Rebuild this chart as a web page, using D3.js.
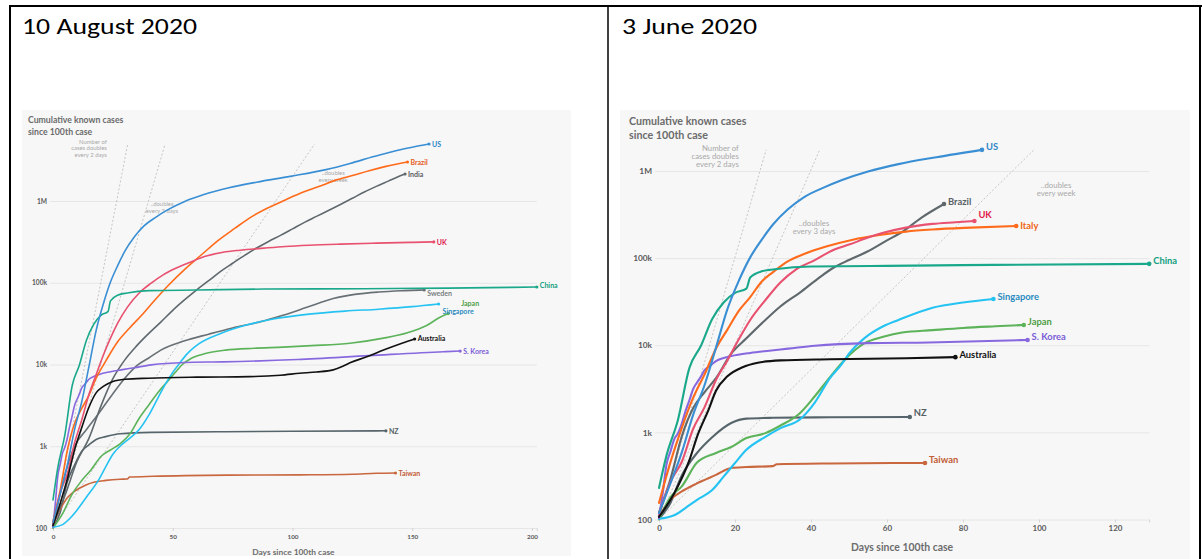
<!DOCTYPE html>
<html>
<head>
<meta charset="utf-8">
<script src="https://cdn.jsdelivr.net/npm/d3@7"></script>
<style>
  html, body { margin: 0; padding: 0; background: #fff; }
  svg { display: block; }
</style>
</head>
<body>
<svg id="root" width="1202" height="559"></svg>
<script>
// ---------- Shared axis values ----------
const Y_TICKS = [100, 1000, 10000, 100000, 1000000];
const Y_TICK_LABELS = ["100", "1k", "10k", "100k", "1M"];
const AUG_X_TICKS = [0, 50, 100, 150, 200];
const JUN_X_TICKS = [0, 20, 40, 60, 80, 100, 120];
const DOUBLING_PERIODS = [2, 3, 7];
const PANEL_DATES = ["10 August 2020", "3 June 2020"];

// ---------- 10 August 2020: [days since 100th case, cumulative cases] ----------
const augUS = [[0,118],[3,260],[6,590],[9,1600],[12,3500],[15,9400],[18,26000],[21,55000],[24,102000],[27,162000],[30,243000],[34,366000],[38,496000],[43,636000],[48,784000],[55,988000],[63,1200000],[73,1440000],[85,1700000],[99,2000000],[114,2420000],[124,2880000],[134,3500000],[144,4180000],[150,4550000],[157,4980000]];
const augBrazil = [[0,121],[3,290],[6,900],[9,1900],[12,2900],[15,4200],[18,6800],[22,11000],[27,19000],[32,28000],[37,40000],[42,59000],[48,92000],[55,146000],[62,220000],[69,330000],[76,465000],[83,645000],[90,830000],[97,1030000],[104,1270000],[111,1500000],[118,1800000],[125,2050000],[132,2350000],[139,2650000],[148,3000000]];
const augIndia = [[0,110],[5,250],[10,650],[15,1250],[20,3100],[25,6700],[30,11400],[35,17000],[40,24000],[45,33000],[50,46000],[55,62000],[60,82000],[65,106000],[70,138000],[75,173000],[80,216000],[85,266000],[90,320000],[95,380000],[100,456000],[105,548000],[110,648000],[115,767000],[120,907000],[125,1080000],[130,1290000],[135,1510000],[140,1750000],[145,2030000],[147,2140000]];
const augUK = [[0,115],[3,270],[6,460],[9,1100],[12,2100],[15,4300],[18,7500],[21,13000],[24,21000],[27,32000],[31,50000],[36,75000],[41,99000],[46,125000],[51,149000],[57,177000],[64,212000],[71,236000],[78,250000],[88,265000],[97,278000],[107,288000],[120,297000],[135,305000],[150,312000],[159,316000]];
const augChina = [[0,220],[2,548],[5,1400],[8,5500],[11,9800],[14,20000],[17,31000],[20,40000],[23,44700],[24,60000],[27,70500],[31,75000],[40,80000],[60,81500],[88,83700],[130,84500],[165,86000],[202,88700]];
const augSweden = [[0,100],[4,350],[9,1000],[14,1600],[19,2500],[25,4400],[30,6800],[35,9700],[40,12000],[45,15000],[55,19500],[65,23500],[75,28000],[86,33000],[96,40000],[106,50000],[117,64000],[126,72000],[136,77000],[147,80000],[155,81500]];
const augSingapore = [[0,102],[4,110],[8,140],[14,240],[19,385],[22,560],[25,800],[28,1000],[32,1250],[36,1600],[40,2400],[44,4000],[47,5800],[50,8000],[53,10500],[56,13500],[61,18000],[70,24000],[80,30000],[92,36000],[106,41000],[122,45000],[136,47500],[150,51000],[161,55000]];
const augJapan = [[0,100],[4,150],[8,260],[12,380],[16,520],[20,750],[24,900],[28,1070],[32,1400],[36,2200],[40,3200],[44,4600],[48,6300],[51,8000],[54,10000],[58,12000],[64,13700],[72,15000],[84,15800],[96,16300],[108,17000],[124,18200],[138,21000],[148,24500],[156,30000],[161,37000],[165,42000]];
const augAustralia = [[0,107],[3,200],[6,400],[9,900],[12,1700],[15,3000],[18,4500],[21,5400],[25,6200],[30,6600],[40,6800],[60,7000],[82,7100],[95,7400],[103,7800],[110,8100],[117,8600],[121,9500],[124,10500],[131,12400],[138,15000],[146,18300],[151,20500]];
const augKorea = [[0,104],[1,204],[2,433],[3,602],[4,833],[5,977],[6,1261],[7,1766],[8,2337],[9,3150],[10,3736],[11,4335],[12,5186],[13,5621],[14,6088],[15,6593],[17,7134],[19,7513],[24,8162],[29,8652],[34,9137],[41,9887],[55,10591],[71,10774],[102,11503],[132,12850],[163,14336],[170,14600]];
const augNZ = [[0,102],[3,155],[6,368],[9,589],[12,868],[15,1039],[18,1210],[22,1312],[28,1422],[41,1479],[72,1504],[100,1525],[139,1545]];
const augTaiwan = [[0,108],[3,169],[6,235],[8,267],[11,306],[14,339],[17,363],[22,382],[28,395],[31,398],[32,420],[42,429],[73,443],[103,447],[125,455],[135,467],[143,471]];

// ---------- 3 June 2020 ----------
const junUS = [[0,118],[3,260],[6,590],[9,1600],[12,3500],[15,9400],[18,26000],[21,55000],[24,102000],[27,162000],[30,243000],[34,366000],[38,496000],[43,636000],[48,784000],[55,988000],[63,1200000],[73,1440000],[85,1750000]];
const junBrazil = [[0,121],[3,290],[6,900],[9,1900],[12,2900],[15,4200],[19,8000],[23,12000],[28,19500],[32,28000],[37,40000],[42,59000],[46,78000],[50,95000],[55,120000],[60,160000],[64,200000],[69,290000],[75,418000]];
const junUK = [[0,115],[3,270],[6,460],[9,1100],[12,1950],[15,4000],[18,6700],[21,11700],[24,19500],[28,33000],[32,53000],[36,74000],[41,95000],[46,125000],[50,143000],[55,172000],[59,195000],[65,224000],[72,247000],[78,258000],[83,267000]];
const junItaly = [[0,155],[3,453],[6,1128],[9,2502],[12,4636],[15,9172],[18,15113],[21,24747],[24,35713],[27,53578],[30,69176],[34,92472],[38,110574],[44,135586],[51,162488],[58,183957],[65,201505],[72,213013],[82,223885],[94,234000]];
const junChina = [[0,230],[2,548],[5,1400],[8,5500],[11,9800],[14,20000],[17,31000],[20,40000],[23,44700],[24,60000],[27,70500],[31,75000],[40,80000],[60,81500],[88,83700],[129,86000]];
const junSingapore = [[0,102],[4,112],[8,146],[10,168],[14,218],[17,310],[20,445],[23,630],[28,890],[32,1120],[37,1400],[41,2200],[45,4200],[48,6000],[50,8000],[54,12000],[59,16500],[63,19500],[72,27000],[80,31000],[88,34000]];
const junJapan = [[0,100],[3,180],[6,240],[10,450],[15,580],[19,680],[23,860],[28,980],[32,1200],[37,1650],[41,2600],[45,4300],[49,6900],[54,10500],[59,12500],[64,14000],[72,14900],[80,15800],[90,16600],[96,17100]];
const junKorea = [[0,104],[1,204],[2,433],[3,602],[4,833],[5,977],[6,1261],[7,1766],[8,2337],[9,3150],[10,3736],[11,4335],[12,5186],[13,5621],[14,6088],[15,6593],[17,7134],[19,7513],[24,8162],[29,8652],[34,9137],[41,9887],[55,10591],[71,10774],[97,11500]];
const junAustralia = [[0,107],[4,200],[8,480],[10,890],[13,1800],[15,3000],[18,4400],[22,5600],[26,6300],[32,6700],[45,6900],[65,7100],[78,7300]];
const junNZ = [[0,102],[3,155],[6,320],[10,580],[14,880],[19,1280],[23,1440],[30,1470],[45,1490],[66,1504]];
const junTaiwan = [[0,108],[3,169],[6,210],[10,260],[15,325],[19,390],[23,400],[30,410],[31,430],[45,440],[70,446]];

const augSeries = [
  ["NZ", augNZ], ["Taiwan", augTaiwan], ["Sweden", augSweden], ["India", augIndia],
  ["Japan", augJapan], ["Singapore", augSingapore], ["S. Korea", augKorea], ["Brazil", augBrazil],
  ["UK", augUK], ["China", augChina], ["Australia", augAustralia], ["US", augUS]
];
const junSeries = [
  ["NZ", junNZ], ["Taiwan", junTaiwan], ["Brazil", junBrazil], ["Japan", junJapan],
  ["Singapore", junSingapore], ["S. Korea", junKorea], ["Italy", junItaly], ["UK", junUK],
  ["China", junChina], ["Australia", junAustralia], ["US", junUS]
];

// ---------- Styles ----------
const LINE_COLORS = {
  US: "#3a8fd4", Brazil: "#ff6b1a", India: "#5f686c", UK: "#e8516f", China: "#1aa88b",
  Sweden: "#687075", Singapore: "#25c3f2", Japan: "#5cb35a", Australia: "#111111",
  "S. Korea": "#8768df", NZ: "#56656b", Taiwan: "#c9673f", Italy: "#ff6b1a"
};
const LABEL_COLORS = {
  US: "#2f86c9", Brazil: "#e55a1c", India: "#575d61", UK: "#e0184c", China: "#129e80",
  Sweden: "#777d80", Singapore: "#2a8bbf", Japan: "#4f9e45", Australia: "#111111",
  "S. Korea": "#7a5dd6", NZ: "#555f64", Taiwan: "#c25c36", Italy: "#f06517"
};
const FONT = "Lato, 'Open Sans', sans-serif";

const svg = d3.select("#root");

// ---------- Table frame ----------
const frame = svg.append("g").attr("stroke", "#000").attr("fill", "none");
frame.append("line").attr("x1", 9).attr("x2", 1202).attr("y1", 6).attr("y2", 6).attr("stroke-width", 2);
frame.append("line").attr("x1", 10).attr("x2", 10).attr("y1", 5).attr("y2", 559).attr("stroke-width", 2);
frame.append("line").attr("x1", 608).attr("x2", 608).attr("y1", 5).attr("y2", 559).attr("stroke-width", 1.5);
frame.append("line").attr("x1", 1200).attr("x2", 1200).attr("y1", 5).attr("y2", 559).attr("stroke-width", 2);

const cellTitles = [{x: 22, w: 175}, {x: 622, w: 135}];
cellTitles.forEach((c, i) => {
  svg.append("text")
    .attr("x", c.x).attr("y", 34)
    .attr("textLength", c.w).attr("lengthAdjust", "spacingAndGlyphs")
    .style("font-family", "Carlito, 'Liberation Sans Narrow', 'Liberation Sans', sans-serif")
    .style("font-size", "22px").attr("fill", "#000")
    .text(PANEL_DATES[i]);
});

// ---------- One chart panel ----------
function drawPanel(p, series) {
  const g = svg.append("g");
  const x = d3.scaleLinear().domain(p.xDomain).range(p.xRange);
  const y = d3.scaleLog().domain([100, 1e6]).range(p.yRange);
  const lastDay = d3.max(series, s => s[1][s[1].length - 1][0]);
  const topValue = d3.max(series, s => s[1][s[1].length - 1][1]);
  const gridStart = x(0) - p.gridLead, gridEnd = x(lastDay);

  g.append("rect").attr("x", p.box[0]).attr("y", p.box[1])
    .attr("width", p.box[2]).attr("height", p.box[3]).attr("fill", "#f7f7f7");

  // y axis with full-width gridlines
  const yAxis = d3.axisLeft(y).tickValues(Y_TICKS)
    .tickFormat((d, i) => Y_TICK_LABELS[i])
    .tickSize(-(gridEnd - gridStart)).tickPadding(p.yPad);
  const ya = g.append("g").attr("transform", `translate(${gridStart},0)`).call(yAxis);
  ya.select(".domain").remove();
  ya.selectAll(".tick line").attr("stroke", "#e6e6e6").attr("stroke-width", 1);
  ya.selectAll(".tick text").attr("fill", "#5a5a5a")
    .style("font-family", FONT).style("font-weight", "700").style("font-size", p.tickSize + "px");

  // x axis along the 100-case line
  const xAxis = d3.axisBottom(x).tickValues(p.xTicks.concat([lastDay]))
    .tickFormat(d => p.xTicks.includes(d) ? d : "")
    .tickSize(3).tickPadding(p.xPad);
  const xa = g.append("g").attr("transform", `translate(0,${y(100)})`).call(xAxis);
  xa.select(".domain").remove();
  xa.selectAll(".tick line").attr("stroke", "#d4d4d4");
  xa.selectAll(".tick text").attr("fill", "#5a5a5a")
    .style("font-family", FONT).style("font-weight", "700").style("font-size", p.xTickSize + "px");

  g.append("text").attr("x", (gridStart + gridEnd) / 2).attr("y", p.axisTitleY)
    .attr("text-anchor", "middle").attr("dominant-baseline", "central")
    .attr("fill", "#6d6d6d").style("font-family", FONT).style("font-weight", "700")
    .style("font-size", p.axisTitleSize + "px").text("Days since 100th case");

  // chart title
  ["Cumulative known cases", "since 100th case"].forEach((t, i) => {
    g.append("text").attr("x", p.titleX).attr("y", p.titleY[i])
      .attr("dominant-baseline", "central").attr("fill", "#6b6b6b")
      .style("font-family", FONT).style("font-weight", "700")
      .style("font-size", p.titleSize + "px").text(t);
  });

  // doubling-rate guides
  const doublings = Math.log2(topValue / 100);
  g.selectAll("line.guide").data(DOUBLING_PERIODS).join("line")
    .attr("x1", x(0)).attr("y1", y(100))
    .attr("x2", d => x(d * doublings)).attr("y2", y(topValue))
    .attr("stroke", "#b8b8b8").attr("stroke-width", 0.8).attr("stroke-dasharray", "2,2");

  p.notes.forEach(n => {
    const t = g.append("text").attr("x", x(n.day)).attr("y", y(n.value))
      .attr("text-anchor", n.anchor).attr("fill", "#a9a9a9")
      .style("font-family", FONT).style("font-size", p.noteSize + "px");
    n.lines.forEach((l, i) => {
      t.append("tspan").attr("x", x(n.day)).attr("dy", i === 0 ? "0.35em" : p.noteLead).text(l);
    });
  });

  // case curves
  const line = d3.line().x(d => x(d[0])).y(d => y(d[1])).curve(d3.curveMonotoneX);
  const colors = Object.assign({}, LINE_COLORS, p.lineColors || {});
  const labelColors = Object.assign({}, LABEL_COLORS, p.labelColors || {});
  series.forEach(([name, pts]) => {
    g.append("path").datum(pts).attr("d", line).attr("fill", "none")
      .attr("stroke", colors[name]).attr("stroke-width", p.lineWidth)
      .attr("stroke-linejoin", "round").attr("stroke-linecap", "round");
    const end = pts[pts.length - 1];
    g.append("circle").attr("cx", x(end[0])).attr("cy", y(end[1]))
      .attr("r", p.dotR).attr("fill", colors[name]);
    const off = p.labelOffsets[name] || [0, 0];
    g.append("text").attr("x", x(end[0]) + p.labelGap + off[0]).attr("y", y(end[1]) + off[1])
      .attr("dominant-baseline", "central").attr("fill", labelColors[name])
      .style("font-family", FONT).style("font-weight", "700")
      .style("font-size", p.labelSize + "px").text(name);
  });
}

drawPanel({
  box: [22, 110, 549, 446],
  xDomain: [0, 200], xRange: [53, 532], yRange: [528, 201],
  xTicks: AUG_X_TICKS, gridLead: 3, yPad: 3, xPad: 4,
  tickSize: 6.6, xTickSize: 6.3, axisTitleY: 552, axisTitleSize: 8.4,
  titleX: 28, titleY: [119, 131], titleSize: 8.7,
  noteSize: 5.9, noteLead: "1.1em",
  notes: [
    {day: 22.5, value: 5.3e6, anchor: "end", lines: ["Number of", "cases doubles", "every 2 days"]},
    {day: 45.5, value: 9.2e5, anchor: "middle", lines: ["..doubles", "every 3 days"]},
    {day: 117, value: 2.2e6, anchor: "middle", lines: ["..doubles", "every week"]}
  ],
  lineWidth: 1.6, dotR: 1.6, labelGap: 3, labelSize: 7,
  labelOffsets: {China: [0, -2], Sweden: [0, 3], Singapore: [1, 7], Japan: [10, -11], Australia: [0, -1]}
}, augSeries);

drawPanel({
  box: [620, 110, 570, 449],
  xDomain: [0, 120], xRange: [659, 1115], yRange: [519.5, 171],
  xTicks: JUN_X_TICKS, gridLead: 4, yPad: 3, xPad: 3,
  tickSize: 8.3, xTickSize: 8, axisTitleY: 547, axisTitleSize: 10.4,
  titleX: 629, titleY: [120, 134], titleSize: 10.7,
  noteSize: 7.8, noteLead: "1.05em",
  notes: [
    {day: 21, value: 1.84e6, anchor: "end", lines: ["Number of", "cases doubles", "every 2 days"]},
    {day: 40.8, value: 2.54e5, anchor: "middle", lines: ["..doubles", "every 3 days"]},
    {day: 104.5, value: 6.9e5, anchor: "middle", lines: ["..doubles", "every week"]}
  ],
  lineWidth: 2.1, dotR: 2.3, labelGap: 4, labelSize: 9.4,
  lineColors: {Brazil: "#5f686c"}, labelColors: {Brazil: "#5a6165"},
  labelOffsets: {US: [0, -3], Brazil: [0, -3], UK: [0, -6], China: [0, -3], Singapore: [0, -2],
                 Japan: [0, -3], "S. Korea": [0, -3], Australia: [0, -3], NZ: [0, -4], Taiwan: [0, -3]}
}, junSeries);
</script>
</body>
</html>
